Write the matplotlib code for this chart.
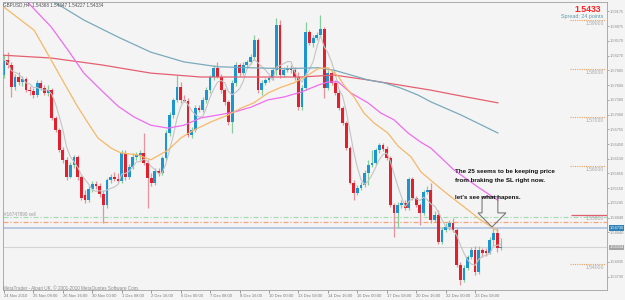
import matplotlib
matplotlib.use("Agg")
import matplotlib.pyplot as plt
import numpy as np
import pandas as pd
from matplotlib.patches import Polygon

# ---------------- data (GBPUSD H4) ----------------
opens = [1.5787,1.5818,1.5808,1.5762,1.5783,1.5773,1.5779,1.5756,1.5754,1.5746,
         1.5771,1.5760,1.5750,1.5756,1.5699,1.5674,1.5633,1.5613,1.5578,1.5602,
         1.5619,1.5578,1.5541,1.5530,1.5553,1.5563,1.5559,1.5543,1.5520,1.5571,
         1.5578,1.5574,1.5569,1.5627,1.5578,1.5598,1.5619,1.5623,1.5627,1.5606,
         1.5576,1.5565,1.5590,1.5586,1.5617,1.5668,1.5705,1.5736,1.5762,1.5736,
         1.5734,1.5664,1.5674,1.5719,1.5715,1.5736,1.5756,1.5783,1.5802,1.5783,
         1.5756,1.5732,1.5691,1.5771,1.5808,1.5791,1.5808,1.5814,1.5824,1.5859,
         1.5756,1.5771,1.5777,1.5781,1.5797,1.5890,1.5787,1.5797,1.5802,1.5797,
         1.5783,1.5721,1.5760,1.5875,1.5853,1.5863,1.5869,1.5881,1.5760,1.5791,
         1.5771,1.5750,1.5719,1.5689,1.5637,1.5565,1.5545,1.5555,1.5561,1.5586,
         1.5602,1.5606,1.5633,1.5643,1.5635,1.5617,1.5520,1.5504,1.5520,1.5524,
         1.5514,1.5574,1.5535,1.5520,1.5504,1.5547,1.5551,1.5489,1.5500,1.5444,
         1.5469,1.5475,1.5483,1.5469,1.5397,1.5366,1.5391,1.5413,1.5428,1.5383,
         1.5428,1.5426,1.5422,1.5448,1.5463,1.5432]
highs = [1.5828,1.5834,1.5814,1.5789,1.5793,1.5785,1.5783,1.5764,1.5760,1.5777,
         1.5777,1.5766,1.5766,1.5760,1.5703,1.5678,1.5639,1.5619,1.5608,1.5623,
         1.5623,1.5582,1.5551,1.5559,1.5569,1.5569,1.5565,1.5551,1.5576,1.5584,
         1.5588,1.5586,1.5633,1.5633,1.5604,1.5627,1.5629,1.5633,1.5668,1.5613,
         1.5586,1.5596,1.5596,1.5621,1.5674,1.5711,1.5740,1.5787,1.5773,1.5746,
         1.5740,1.5680,1.5725,1.5725,1.5742,1.5762,1.5787,1.5808,1.5814,1.5789,
         1.5760,1.5736,1.5777,1.5814,1.5812,1.5814,1.5818,1.5830,1.5869,1.5863,
         1.5777,1.5781,1.5785,1.5804,1.5904,1.5900,1.5804,1.5808,1.5808,1.5804,
         1.5793,1.5766,1.5896,1.5879,1.5869,1.5875,1.5910,1.5886,1.5797,1.5795,
         1.5777,1.5756,1.5723,1.5693,1.5641,1.5571,1.5561,1.5567,1.5592,1.5613,
         1.5633,1.5637,1.5647,1.5647,1.5641,1.5621,1.5524,1.5526,1.5530,1.5530,
         1.5578,1.5578,1.5539,1.5524,1.5551,1.5559,1.5565,1.5508,1.5510,1.5475,
         1.5483,1.5489,1.5494,1.5473,1.5403,1.5397,1.5417,1.5434,1.5436,1.5436,
         1.5432,1.5432,1.5454,1.5473,1.5473,1.5452]
lows  = [1.5781,1.5802,1.5742,1.5756,1.5766,1.5764,1.5752,1.5746,1.5740,1.5742,
         1.5756,1.5746,1.5744,1.5695,1.5670,1.5629,1.5606,1.5571,1.5576,1.5596,
         1.5571,1.5530,1.5524,1.5526,1.5547,1.5553,1.5537,1.5483,1.5514,1.5565,
         1.5569,1.5565,1.5565,1.5571,1.5574,1.5594,1.5613,1.5613,1.5602,1.5514,
         1.5559,1.5561,1.5580,1.5582,1.5613,1.5662,1.5699,1.5732,1.5730,1.5732,
         1.5660,1.5658,1.5670,1.5711,1.5711,1.5730,1.5750,1.5777,1.5781,1.5750,
         1.5725,1.5684,1.5668,1.5764,1.5785,1.5787,1.5804,1.5810,1.5818,1.5750,
         1.5746,1.5766,1.5773,1.5777,1.5787,1.5781,1.5783,1.5793,1.5791,1.5777,
         1.5715,1.5715,1.5756,1.5849,1.5845,1.5859,1.5865,1.5740,1.5756,1.5766,
         1.5746,1.5715,1.5684,1.5633,1.5563,1.5530,1.5541,1.5551,1.5557,1.5561,
         1.5598,1.5602,1.5627,1.5631,1.5613,1.5516,1.5454,1.5473,1.5514,1.5510,
         1.5510,1.5530,1.5516,1.5479,1.5500,1.5543,1.5483,1.5485,1.5440,1.5440,
         1.5465,1.5469,1.5465,1.5393,1.5356,1.5362,1.5387,1.5409,1.5377,1.5379,
         1.5413,1.5415,1.5420,1.5436,1.5424,1.5428]
closes = [1.5818,1.5808,1.5762,1.5783,1.5773,1.5779,1.5756,1.5754,1.5746,1.5771,
          1.5760,1.5750,1.5756,1.5699,1.5674,1.5633,1.5613,1.5578,1.5602,1.5619,
          1.5578,1.5535,1.5530,1.5553,1.5563,1.5559,1.5543,1.5520,1.5571,1.5578,
          1.5574,1.5569,1.5627,1.5578,1.5598,1.5619,1.5623,1.5627,1.5606,1.5576,
          1.5565,1.5590,1.5586,1.5617,1.5668,1.5705,1.5736,1.5762,1.5736,1.5734,
          1.5664,1.5674,1.5719,1.5715,1.5736,1.5756,1.5783,1.5802,1.5783,1.5756,
          1.5732,1.5691,1.5771,1.5808,1.5791,1.5808,1.5814,1.5824,1.5859,1.5756,
          1.5771,1.5777,1.5781,1.5797,1.5890,1.5787,1.5797,1.5802,1.5797,1.5783,
          1.5721,1.5760,1.5875,1.5853,1.5863,1.5869,1.5881,1.5760,1.5791,1.5771,
          1.5750,1.5719,1.5689,1.5637,1.5565,1.5545,1.5555,1.5561,1.5586,1.5602,
          1.5606,1.5633,1.5643,1.5635,1.5617,1.5520,1.5504,1.5520,1.5524,1.5514,
          1.5574,1.5535,1.5520,1.5504,1.5547,1.5551,1.5489,1.5500,1.5444,1.5469,
          1.5475,1.5483,1.5469,1.5397,1.5366,1.5391,1.5413,1.5428,1.5383,1.5428,
          1.5422,1.5422,1.5448,1.5463,1.5432,1.5434]

# moving-average curves (bar index, price)
ma25_x = [-0.8,8.2,12.8,16.3,20.1,22.8,25.5,29.1,31.8,36.4,39.9,44.6,48.1,51.6,56.3,60.9,
          64.4,67.9,71.7,75.3,78.8,82.6,85.3,88.0,90.8,92.4,95.1,97.8,100.5,104.3,107.1,
          110.6,113.3,118.8,122.3,126.1,129.6,134.2]
ma25_y = [1.5931,1.5879,1.5818,1.5771,1.5721,1.5689,1.5658,1.5637,1.5627,1.5623,1.5613,
          1.5633,1.5658,1.5674,1.5691,1.5705,1.5719,1.5730,1.5750,1.5762,1.5771,1.5787,
          1.5800,1.5802,1.5785,1.5766,1.5742,1.5709,1.5689,1.5668,1.5641,1.5619,1.5588,
          1.5553,1.5532,1.5510,1.5489,1.5467]
ma50_x = [4.6,12.8,17.4,21.7,26.4,31.0,35.3,39.9,44.6,48.9,53.5,58.2,62.5,67.1,71.7,76.1,
          80.7,85.3,88.0,90.8,94.3,98.9,102.4,106.0,109.8,113.3,116.0,122.3,128.8,134.2]
ma50_y = [1.5951,1.5886,1.5838,1.5791,1.5756,1.5723,1.5701,1.5684,1.5678,1.5684,1.5699,
          1.5705,1.5711,1.5721,1.5736,1.5742,1.5752,1.5766,1.5773,1.5773,1.5750,1.5730,
          1.5709,1.5695,1.5668,1.5649,1.5637,1.5592,1.5557,1.5530]
ma100_x = [11.4,12.8,21.7,31.0,39.9,48.9,58.2,67.1,76.1,85.3,89.7,94.3,98.9,103.3,107.9,
           112.5,116.0,124.2,134.2]
ma100_y = [1.5947,1.5941,1.5900,1.5865,1.5834,1.5814,1.5804,1.5802,1.5800,1.5802,1.5797,
           1.5787,1.5777,1.5771,1.5760,1.5746,1.5732,1.5705,1.5668]
ma200_x = [-0.8,12.8,26.4,39.9,53.5,67.1,80.7,89.7,98.9,107.9,116.0,124.2,134.2]
ma200_y = [1.5828,1.5822,1.5808,1.5791,1.5783,1.5783,1.5783,1.5787,1.5777,1.5766,1.5756,
           1.5744,1.5730]

time_labels = ["24 Nov 2010", "25 Nov 08:00", "26 Nov 16:00", "30 Nov 00:00", "1 Dec 08:00",
               "2 Dec 16:00", "6 Dec 00:00", "7 Dec 08:00", "8 Dec 16:00", "10 Dec 00:00",
               "13 Dec 08:00", "14 Dec 16:00", "16 Dec 00:00", "17 Dec 08:00", "20 Dec 16:00",
               "22 Dec 00:00", "23 Dec 08:00"]
price_ticks = [1.59175, 1.58875, 1.58570, 1.58270, 1.57965, 1.57660, 1.57360, 1.57060,
               1.56755, 1.56450, 1.56150, 1.55850, 1.55550, 1.55245, 1.54940, 1.54640,
               1.54035, 1.53730]
round_levels = [1.59, 1.58, 1.57, 1.56, 1.54]
order_open = 1.5496
order_sl = 1.5485
order_line = 1.5473
bid = 1.5433

BG = "#f4f4f4"
UP = "#1f95d0"
DN = "#e0202c"
UPW = "#86cc9c"
DNW = "#e8929c"
FONT = ["Liberation Sans", "DejaVu Sans"]

fig = plt.figure(figsize=(6.25, 3.0), dpi=100, facecolor=BG)
ax = fig.add_axes([3/625, 10/300, 604/625, 288/300], facecolor=BG)
ax.set_xlim(-0.27, 163.86)
ax.set_ylim(1.53457, 1.59370)

def px(x, y):
    return x / 625, 1 - y / 300

o = np.array(opens); h = np.array(highs); l = np.array(lows); c = np.array(closes)
idx = np.arange(len(o))
up = c >= o

# horizontal levels
ax.axhline(order_open, color="#a8dcb8", lw=0.9, ls=(0, (4, 1.5, 1, 1.5)), zorder=1)
ax.axhline(order_sl, color="#f5a47a", lw=0.9, ls=(0, (4, 1.5, 1, 1.5)), zorder=1)
ax.axhline(order_line, color="#a8bedc", lw=1.1, zorder=1)
ax.axhline(bid, color="#d4d4d4", lw=0.8, zorder=1)

# candles
ax.vlines(idx[up], l[up], h[up], color=UPW, lw=0.9, zorder=2)
ax.vlines(idx[~up], l[~up], h[~up], color=DNW, lw=0.9, zorder=2)
body = np.maximum(np.abs(c - o), 0.00008)
ax.bar(idx[up], body[up], bottom=np.minimum(o, c)[up], width=0.76, color=UP, lw=0, zorder=2.5)
ax.bar(idx[~up], body[~up], bottom=np.minimum(o, c)[~up], width=0.76, color=DN, lw=0, zorder=2.5)

# moving averages
fast = pd.Series(c).rolling(5, min_periods=1).mean()
ax.plot(idx, fast, color="#c4c4c4", lw=0.8, zorder=3)
ax.plot(ma200_x, ma200_y, color="#e46070", lw=0.9, zorder=3)
ax.plot(ma100_x, ma100_y, color="#7aaabb", lw=0.9, zorder=3)
ax.plot(ma50_x, ma50_y, color="#f06cf0", lw=0.9, zorder=3)
ax.plot(ma25_x, ma25_y, color="#f7b868", lw=0.9, zorder=3)

# round-number markers at right
for p in round_levels:
    ax.hlines(p, 153.8, 163.3, color="#f0a060", lw=0.8, ls=(0, (1, 1)), zorder=1)
    ax.text(163.0, p - 0.0002, f"{p:.5f}", ha="right", va="top", fontsize=3.6,
            color="#a8a8a8", family=FONT)
ax.hlines(1.55, 154.0, 163.86, color="#e06070", lw=0.9, zorder=1)
ax.text(163.0, 1.55 - 0.0002, "1.55000", ha="right", va="top", fontsize=3.6,
        color="#a8a8a8", family=FONT)

# arrow annotation
arrow = Polygon([(129.9, 1.5537), (134.2, 1.5537), (134.2, 1.5504), (136.4, 1.5504),
                 (132.6, 1.5475), (128.8, 1.5504), (129.9, 1.5504)], closed=True,
                fill=False, edgecolor="#7a7a7a", lw=0.8, zorder=4)
ax.add_patch(arrow)

# axes styling
for s in ax.spines.values():
    s.set_color("#a0a0a0")
    s.set_linewidth(0.6)
ax.yaxis.tick_right()
ax.set_yticks(price_ticks)
ax.set_yticklabels([f"{p:.5f}" for p in price_ticks])
ax.set_xticks(np.arange(0, 8 * len(time_labels), 8))
ax.set_xticklabels(time_labels)
for t in ax.get_xticklabels():
    t.set_horizontalalignment("left")
ax.tick_params(axis="y", labelsize=2.8, colors="#8a8a8a", length=1.5, width=0.5, pad=0.7)
ax.tick_params(axis="x", labelsize=3.0, colors="#7a7a7a", length=2, width=0.5, pad=1.2)
for t in ax.get_xticklabels() + ax.get_yticklabels():
    t.set_family(FONT)

# price boxes on the axis
ax.text(1.004, order_line, "1.54730", transform=ax.get_yaxis_transform(), fontsize=2.8,
        color="white", va="center", ha="left", family=FONT,
        bbox=dict(boxstyle="square,pad=0.2", fc="#2f82b8", ec="none"), zorder=6, clip_on=False)
ax.text(1.004, bid, "1.54334", transform=ax.get_yaxis_transform(), fontsize=2.8,
        color="white", va="center", ha="left", family=FONT,
        bbox=dict(boxstyle="square,pad=0.2", fc="#a4a4a4", ec="none"), zorder=6, clip_on=False)

# texts
fig.text(*px(3, 5), "GBPUSD,H4  1.54368 1.54347 1.54227 1.54334", fontsize=3.3,
         color="#505050", va="center", ha="left", family=FONT)
fig.text(*px(3, 288), "MetaTrader - Alpari UK, \u00a9 2001-2010 MetaQuotes Software Corp.",
         fontsize=3.3, color="#8a8a8a", va="center", ha="left", family=FONT)
fig.text(*px(4, 215), "#16747890 sell", fontsize=3.3, color="#9a9a9a", va="center",
         ha="left", family=FONT)
fig.text(*px(601, 10), "1.5433", fontsize=6.2, color="#ff2020", weight="bold",
         va="center", ha="right", family=FONT)
fig.text(*px(603, 16.5), "Spread: 24 points", fontsize=3.9, color="#5d9aac",
         va="center", ha="right", family=FONT)
for txt, y in [("The 25 seems to be keeping price", 172),
               ("from braking the SL right now.", 180.5),
               ("let's see what hapens.", 197.5)]:
    fig.text(*px(455, y), txt, fontsize=4.5, color="#111111", weight="bold",
             va="center", ha="left", family=FONT)

fig.savefig("out.png", dpi=100, facecolor=BG)
